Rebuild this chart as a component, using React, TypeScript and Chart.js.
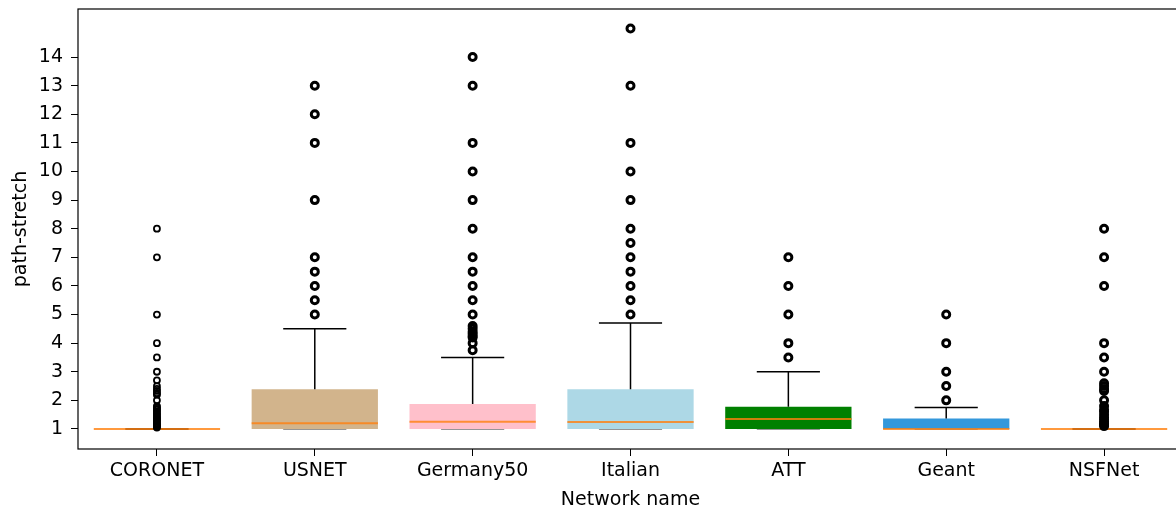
import React, { useEffect, useRef } from 'react';
import { Chart, registerables } from 'chart.js';

Chart.register(...registerables);

// ---- data ----
const categories = ['CORONET', 'USNET', 'Germany50', 'Italian', 'ATT', 'Geant', 'NSFNet'];
const q1 = [1, 1, 1, 1, 1, 1, 1];
const medians = [1, 1.2, 1.25, 1.24, 1.35, 1.0, 1];
const q3 = [1, 2.39, 1.87, 2.39, 1.78, 1.37, 1];
const whiskerLow = [1, 1, 1, 1, 1, 1, 1];
const whiskerHigh = [1, 4.5, 3.5, 4.7, 3.0, 1.75, 1];
const boxColors = ['#d2b48c', '#d2b48c', '#ffc0cb', '#add8e6', '#008000', '#3498db', '#d2b48c'];

const outliersCORONET = [8, 7, 5, 4, 3.5, 3, 2.7, 2.5, 2.4, 2.33, 2.25, 2.2, 2.0, 1.8, 1.75, 1.7, 1.67, 1.6, 1.55, 1.5, 1.45, 1.4, 1.36, 1.33, 1.3, 1.25, 1.2, 1.17, 1.14, 1.11, 1.08, 1.05];
const outliersUSNET = [13, 12, 11, 9, 7, 6.5, 6, 5.5, 5];
const outliersGermany50 = [14, 13, 11, 10, 9, 8, 7, 6.5, 6, 5.5, 5, 4.6, 4.5, 4.4, 4.33, 4.25, 4.2, 4.0, 3.75];
const outliersItalian = [15, 13, 11, 10, 9, 8, 7.5, 7, 6.5, 6, 5.5, 5];
const outliersATT = [7, 6, 5, 4, 3.5];
const outliersGeant = [5, 4, 3, 2.5, 2];
const outliersNSFNet = [8, 7, 6, 4, 3.5, 3, 2.6, 2.5, 2.4, 2.33, 2.0, 1.8, 1.67, 1.6, 1.5, 1.4, 1.33, 1.25, 1.2, 1.14, 1.1];
const outliers = [outliersCORONET, outliersUSNET, outliersGermany50, outliersItalian, outliersATT, outliersGeant, outliersNSFNet];

const yTicks = [1, 2, 3, 4, 5, 6, 7, 8, 9, 10, 11, 12, 13, 14];
const yMin = 0.3;
const yMax = 15.68;

const FONT = 'DejaVu Sans';

const spinesPlugin = {
  id: 'spines',
  afterDraw(chart: any) {
    const { ctx, chartArea } = chart;
    const { left, right, top, bottom } = chartArea;
    ctx.save();
    ctx.strokeStyle = '#000';
    ctx.lineWidth = 1.2;
    ctx.strokeRect(left, top, right - left, bottom - top);
    ctx.restore();
  },
};

export default function App() {
  const ref = useRef<HTMLCanvasElement>(null);

  useEffect(() => {
    if (!ref.current) return;
    const boxHalf = 0.4;
    const capHalf = 0.2;
    const pos = categories.map((_, i) => i + 1);

    const hSeg = (vals: number[], half: number) => {
      const out: any[] = [];
      pos.forEach((p, i) => {
        out.push({ x: p - half, y: vals[i] }, { x: p + half, y: vals[i] }, { x: p, y: null });
      });
      return out;
    };
    const vSeg = (from: number[], to: number[]) => {
      const out: any[] = [];
      pos.forEach((p, i) => {
        out.push({ x: p, y: from[i] }, { x: p, y: to[i] }, { x: p + 0.01, y: null });
      });
      return out;
    };

    const lineBase = {
      type: 'line' as const,
      pointRadius: 0,
      fill: false,
      spanGaps: false,
      tension: 0,
    };

    const chart = new Chart(ref.current, {
      type: 'bar',
      data: {
        datasets: [
          {
            ...lineBase,
            label: 'lowCaps',
            data: hSeg(whiskerLow, capHalf),
            borderColor: 'rgba(0,0,0,0.55)',
            borderWidth: 1.4,
            order: 6,
          },
          {
            type: 'bar',
            label: 'boxes',
            data: pos.map((p, i) => ({ x: p, y: [q1[i], q3[i]] })) as any,
            backgroundColor: boxColors,
            borderWidth: 0,
            barPercentage: 0.8,
            categoryPercentage: 1,
            order: 5,
          },
          {
            ...lineBase,
            label: 'whiskers',
            data: vSeg(q3, whiskerHigh),
            borderColor: '#000',
            borderWidth: 1.5,
            order: 4,
          },
          {
            ...lineBase,
            label: 'highCaps',
            data: hSeg(whiskerHigh, capHalf),
            borderColor: '#000',
            borderWidth: 1.5,
            order: 4,
          },
          {
            ...lineBase,
            label: 'medians',
            data: hSeg(medians, boxHalf),
            borderColor: 'rgba(255,127,14,0.8)',
            borderWidth: 2,
            order: 3,
          },
          ...outliers.map((vals, i) => ({
            type: 'scatter' as const,
            label: 'fliers ' + categories[i],
            data: vals.map((v) => ({ x: i + 1, y: v })),
            pointStyle: 'circle' as const,
            pointRadius: i === 0 ? 3 : 3.5,
            pointBorderWidth: i === 0 ? 1.8 : 3,
            pointBorderColor: '#000',
            pointBackgroundColor: 'rgba(0,0,0,0)',
            showLine: false,
            order: 1,
          })),
        ] as any,
      },
      options: {
        responsive: false,
        animation: false,
        events: [],
        layout: { padding: { top: 9, right: 17, left: 0, bottom: 0 } },
        plugins: { legend: { display: false }, tooltip: { enabled: false } },
        scales: {
          x: {
            type: 'linear',
            min: 0.5,
            max: 7.5,
            offset: false,
            afterFit: (s: any) => {
              s.height = 63;
              s.paddingLeft = 0;
              s.paddingRight = 0;
            },
            afterBuildTicks: (s: any) => {
              s.ticks = pos.map((v) => ({ value: v }));
            },
            grid: {
              drawOnChartArea: false,
              drawTicks: true,
              tickLength: 7,
              tickColor: '#000',
              offset: false,
            },
            border: { display: false },
            ticks: {
              autoSkip: false,
              maxRotation: 0,
              padding: 4,
              color: '#000',
              font: { family: FONT, size: 19 },
              callback: (v: any) => categories[Math.round(v) - 1] ?? '',
            },
            title: {
              display: true,
              text: 'Network name',
              color: '#000',
              font: { family: FONT, size: 19 },
              padding: { top: 0, bottom: 0.5 },
            },
          },
          y: {
            type: 'linear',
            min: yMin,
            max: yMax,
            beginAtZero: false,
            afterFit: (s: any) => {
              s.width = 78;
              s.paddingTop = 0;
              s.paddingBottom = 0;
            },
            afterBuildTicks: (s: any) => {
              s.ticks = yTicks.map((v) => ({ value: v }));
            },
            grid: {
              drawOnChartArea: false,
              drawTicks: true,
              tickLength: 7,
              tickColor: '#000',
            },
            border: { display: false },
            ticks: {
              padding: 8,
              color: '#000',
              font: { family: FONT, size: 19 },
              callback: (v: any) => String(v),
            },
            title: {
              display: true,
              text: 'path-stretch',
              color: '#000',
              font: { family: FONT, size: 19 },
              padding: { top: 9.5, bottom: 0 },
            },
          },
        },
      } as any,
      plugins: [spinesPlugin],
    });

    return () => chart.destroy();
  }, []);

  return (
    <div style={{ position: 'fixed', left: 0, top: 0, width: 1200, height: 512, background: '#fff' }}>
      <canvas ref={ref} width={1200} height={512} style={{ display: 'block' }} />
    </div>
  );
}
